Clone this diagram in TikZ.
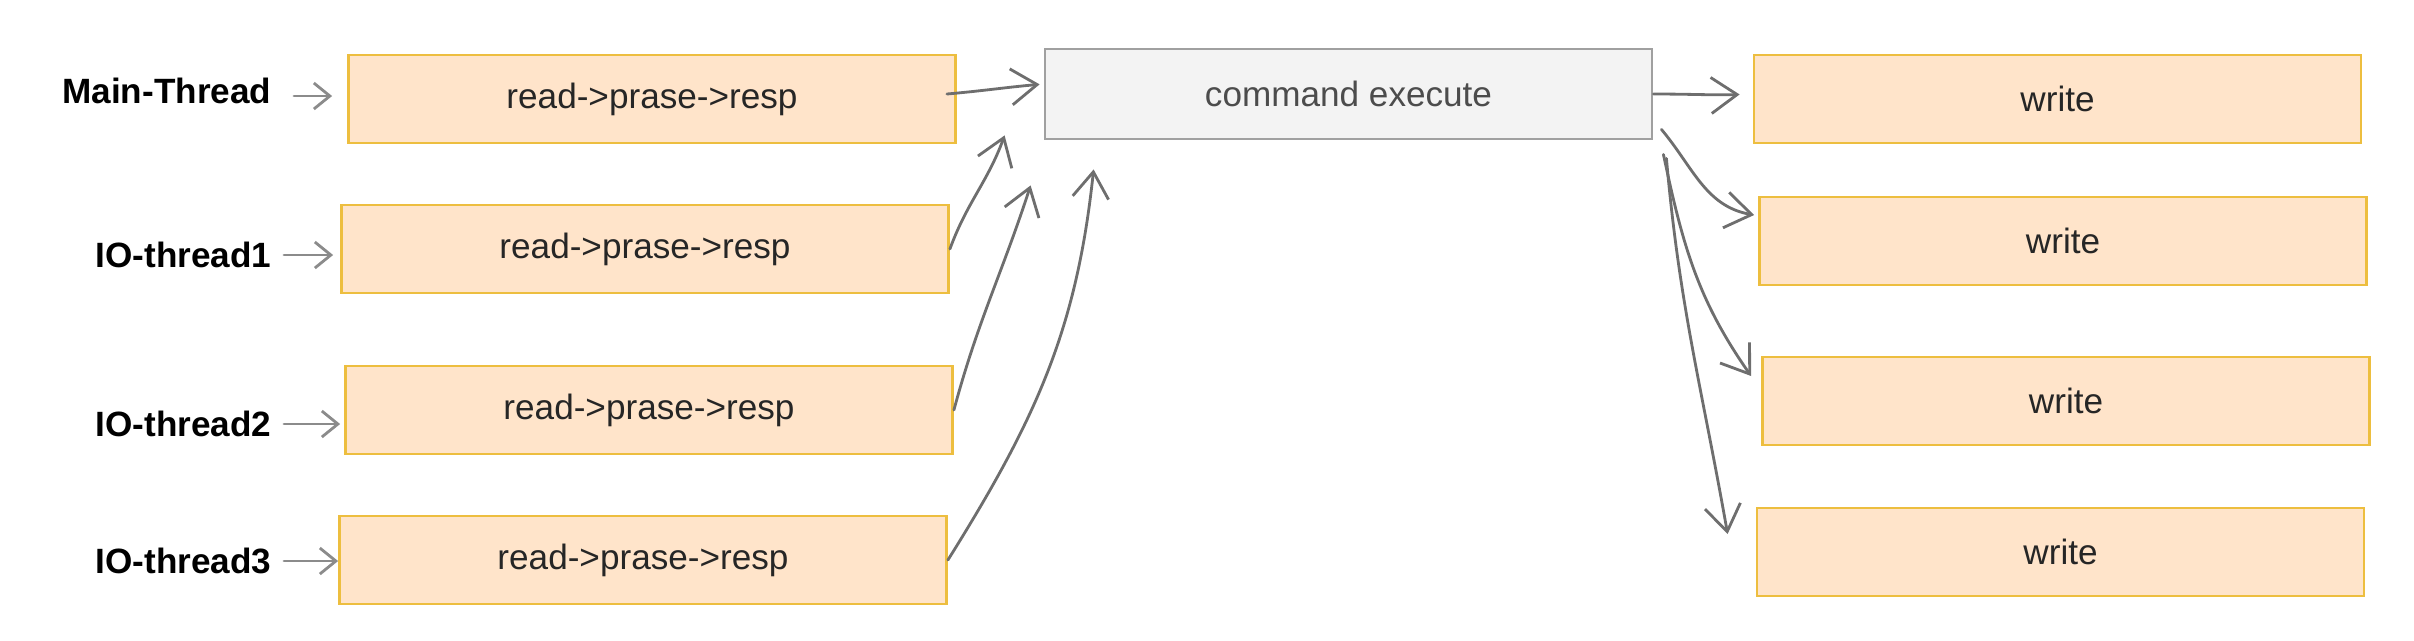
\documentclass[tikz,border=0pt]{standalone}
\usepackage{fontspec}
\setmainfont{Liberation Sans}
\usepackage{tikz}
\usetikzlibrary{calc, arrows.meta}
\usepackage{xcolor}

\definecolor{boxfill}{HTML}{FFE4CA}
\definecolor{boxline}{HTML}{EDBE3F}
\definecolor{cmdfill}{HTML}{F3F3F3}
\definecolor{cmdline}{HTML}{A0A0A0}
\definecolor{penink}{HTML}{6E6E6E}

\begin{document}
\begin{tikzpicture}[
    stage/.style={draw=boxline, fill=boxfill, line width=0.8pt, minimum width=6.07cm, minimum height=0.88cm, inner sep=0pt, font=\fontsize{10}{12}\selectfont, text=black!85},
    exec/.style={draw=cmdline, fill=cmdfill, line width=0.8pt, minimum width=6.07cm, minimum height=0.90cm, inner sep=0pt, font=\fontsize{10}{12}\selectfont, text=black!70},
    thread/.style={anchor=east, font=\fontsize{10}{12}\selectfont\bfseries, inner sep=0pt},
    pen/.style={draw=penink, line width=0.8pt, line cap=round, -{Straight Barb[length=2.6mm, width=3.6mm]}},
    tick/.style={draw=penink!80, line width=0.8pt, line cap=round, -{Straight Barb[length=1.6mm, width=2.6mm]}}
]

    % ==========================================
    % CANVAS
    % ==========================================

    \useasboundingbox (0, 0) rectangle (24.14, -6.40);

    % ==========================================
    % READ STAGES (left column)
    % ==========================================

    \node[stage] (main) at (6.52, -0.99) {read->prase->resp};
    \node[stage] (io1)  at (6.45, -2.49) {read->prase->resp};
    \node[stage] (io2)  at (6.49, -4.10) {read->prase->resp};
    \node[stage] (io3)  at (6.43, -5.60) {read->prase->resp};

    % Thread names, right aligned before the boxes
    \node[thread] (lmain) at (2.72, -0.91) {Main-Thread};
    \node[thread] (lio1)  at (2.72, -2.55) {IO-thread1};
    \node[thread] (lio2)  at (2.72, -4.24) {IO-thread2};
    \node[thread] (lio3)  at (2.72, -5.61) {IO-thread3};

    % ==========================================
    % EXECUTE & WRITE
    % ==========================================

    \node[exec] (cmd) at (13.485, -0.94) {command execute};

    \node[stage] (w1) at (20.575, -0.99) {write};
    \node[stage] (w2) at (20.63, -2.41) {write};
    \node[stage] (w3) at (20.66, -4.01) {write};
    \node[stage] (w4) at (20.605, -5.52) {write};

    % Loose ends of the sketched arrows near the execute box
    \coordinate (tip1) at ($(cmd.south west) + (-0.39, 0.05)$);
    \coordinate (tip2) at ($(cmd.south west) + (-0.13, -0.45)$);
    \coordinate (tip3) at ($(cmd.south west) + (0.50, -0.29)$);
    \coordinate (tip4) at ($(w4.west) + (-0.28, 0.18)$);

    % ==========================================
    % SKETCHED ARROWS
    % ==========================================

    % Thread name -> its box
    \draw[tick, shorten <=0.22cm, shorten >=0.15cm] (lmain.east |- 0,-0.96) -- (main.west |- 0,-0.96);
    \draw[tick, shorten <=0.12cm, shorten >=0.07cm] (lio1.east) -- (io1.west |- lio1.east);
    \draw[tick, shorten <=0.12cm, shorten >=0.04cm] (lio2.east) -- (io2.west |- lio2.east);
    \draw[tick, shorten <=0.12cm, shorten >=0.00cm] (lio3.east) -- (io3.west |- lio3.east);

    % Read stages -> command execute
    \draw[pen, shorten >=0.04cm] ($(main.east) + (-0.1, 0.05)$) to[out=5, in=185] ($(cmd.west) + (0, 0.10)$);
    \draw[pen] (io1.east) to[out=70, in=250] (tip1);
    \draw[pen] (io2.east) to[out=75, in=252] (tip2);
    \draw[pen] (io3.east) to[out=58, in=264] (tip3);

    % Command execute -> writes
    \draw[pen, shorten >=0.13cm] (cmd.east) to[out=0, in=182] (w1.west |- cmd.east);
    \draw[pen] ($(cmd.south east) + (0.08, 0.11)$) to[out=-50, in=170] ($(w2.west) + (-0.04, 0.26)$);
    \draw[pen] ($(cmd.south east) + (0.10, -0.14)$) to[out=-78, in=125] ($(w3.west) + (-0.10, 0.25)$);
    \draw[pen] ($(cmd.south east) + (0.13, -0.18)$) to[out=-85, in=100] (tip4);

\end{tikzpicture}
\end{document}
